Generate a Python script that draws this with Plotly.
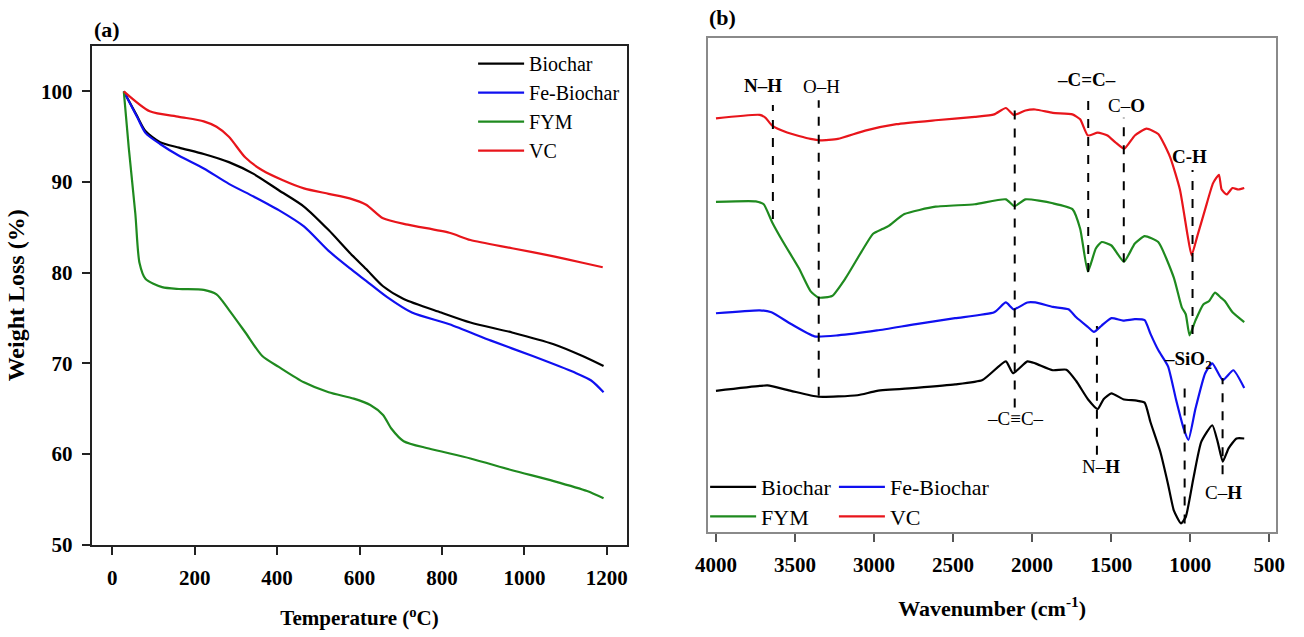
import plotly.graph_objects as go

# ---------------- (a) TGA: weight loss vs temperature ----------------
tga_biochar_t = [28, 60, 81, 116, 162, 222, 283, 343, 404, 465, 525, 576, 616, 657, 707, 798, 869, 970, 1071, 1141, 1192]
tga_biochar_w = [100, 97.3, 95.6, 94.4, 93.8, 93.1, 92.2, 90.9, 89.1, 87.3, 84.7, 82.2, 80.4, 78.5, 77.1, 75.6, 74.5, 73.4, 72.1, 70.8, 69.7]

tga_fe_t = [28, 60, 81, 116, 162, 222, 283, 343, 404, 465, 525, 576, 616, 667, 727, 818, 919, 1020, 1121, 1162, 1192]
tga_fe_w = [100, 97.2, 95.4, 94.2, 92.9, 91.5, 89.8, 88.4, 86.9, 85.1, 82.4, 80.5, 79.1, 77.3, 75.6, 74.3, 72.5, 70.8, 69.0, 68.1, 66.8]

tga_fym_t = [28, 40, 56, 66, 81, 121, 162, 222, 253, 283, 323, 364, 404, 465, 525, 586, 626, 657, 677, 707, 768, 869, 970, 1071, 1152, 1192]
tga_fym_w = [100, 93.8, 86.5, 81.1, 79.3, 78.4, 78.2, 78.1, 77.6, 75.9, 73.4, 70.8, 69.6, 67.9, 66.8, 66.1, 65.4, 64.3, 62.8, 61.4, 60.6, 59.5, 58.2, 57.0, 55.9, 55.1]

tga_vc_t = [28, 91, 162, 222, 253, 283, 323, 364, 414, 465, 525, 576, 616, 657, 717, 818, 869, 970, 1071, 1141, 1190]
tga_vc_w = [100, 97.8, 97.2, 96.7, 96.1, 95.0, 92.7, 91.3, 90.2, 89.3, 88.7, 88.2, 87.5, 86.0, 85.3, 84.4, 83.6, 82.7, 81.8, 81.1, 80.6]

tga_x_ticks = [0, 200, 400, 600, 800, 1000, 1200]
tga_y_ticks = [50, 60, 70, 80, 90, 100]

# ---------------- (b) FTIR: stacked transmittance (a.u.) ----------------
ftir_vc_wn = [4000, 3723, 3686, 3644, 3550, 3402, 3340, 3229, 3056, 2858, 2611, 2363, 2240, 2166, 2116, 2042,
              1980, 1869, 1745, 1696, 1647, 1585, 1523, 1473, 1417, 1350, 1276, 1202, 1127, 1065, 1016, 991,
              954, 905, 855, 818, 801, 769, 732, 695, 658]
ftir_vc_t = [84.2, 84.9, 84.3, 82.7, 81.3, 80.0, 79.7, 80.0, 81.7, 83.0, 83.8, 84.5, 85.0, 86.3, 84.9, 85.8,
             86.0, 85.3, 85.0, 84.0, 80.7, 81.3, 80.7, 79.3, 78.0, 80.7, 82.1, 81.0, 76.3, 69.7, 60.3, 56.3,
             60.3, 65.7, 71.0, 72.7, 69.7, 68.7, 70.0, 69.7, 70.0]

ftir_fym_wn = [4000, 3748, 3698, 3644, 3575, 3476, 3402, 3352, 3266, 3179, 3080, 3006, 2944, 2907, 2808, 2611,
               2363, 2166, 2111, 2042, 1869, 1745, 1696, 1647, 1597, 1560, 1498, 1419, 1350, 1288, 1202, 1103,
               1053, 1028, 1004, 967, 917, 880, 843, 806, 781, 732, 658]
ftir_fym_t = [67.2, 67.3, 66.7, 63.0, 59.0, 53.7, 49.0, 47.7, 48.0, 51.7, 57.0, 60.7, 61.7, 62.3, 64.7, 66.2,
              66.7, 67.7, 66.3, 67.7, 66.9, 65.7, 61.7, 53.0, 57.7, 59.0, 58.3, 55.0, 58.7, 60.2, 59.0, 51.7,
              45.7, 44.3, 40.0, 43.0, 46.3, 47.0, 48.7, 47.7, 47.0, 44.7, 42.7]

ftir_fe_wn = [4000, 3723, 3649, 3525, 3377, 3229, 2981, 2734, 2487, 2240, 2166, 2116, 2030, 1980, 1869, 1770,
              1721, 1647, 1609, 1560, 1498, 1424, 1350, 1288, 1251, 1202, 1140, 1090, 1041, 1011, 967, 905,
              860, 794, 727, 658]
ftir_fe_t = [44.5, 45.1, 44.7, 42.3, 39.8, 40.0, 41.0, 42.3, 43.5, 44.7, 46.7, 45.3, 46.7, 46.7, 45.8, 45.3,
             43.7, 41.7, 40.7, 42.0, 43.5, 43.0, 43.3, 43.1, 40.3, 37.0, 33.7, 27.0, 21.0, 18.7, 25.0, 32.3,
             34.3, 30.9, 32.9, 29.3]

ftir_bio_wn = [4000, 3723, 3674, 3525, 3352, 3105, 2981, 2734, 2487, 2314, 2166, 2121, 2030, 1980, 1869, 1783,
               1721, 1647, 1585, 1548, 1498, 1424, 1338, 1288, 1251, 1189, 1140, 1103, 1058, 1028, 979, 930,
               860, 826, 794, 757, 707, 658]
ftir_bio_t = [28.7, 29.7, 29.8, 28.7, 27.5, 27.8, 28.7, 29.3, 30.0, 30.9, 34.7, 32.3, 34.7, 34.3, 32.9, 33.0,
              30.7, 27.0, 25.0, 27.0, 28.2, 27.0, 26.7, 26.3, 22.3, 16.3, 9.7, 4.3, 1.7, 3.0, 11.0, 18.3,
              21.7, 18.3, 14.3, 17.0, 19.0, 19.0]

ftir_x_ticks = [4000, 3500, 3000, 2500, 2000, 1500, 1000, 500]

# Band assignments: wavenumber of the marker line, its vertical span, label text and label position
band_wn = [3640, 3350, 2110, 1645, 1420, 985, 1590, 1035, 795]
band_y0 = [63.7, 27.7, 25.3, 52.9, 54.9, 40.3, 15.7, 1.7, 11.7]
band_y1 = [86.9, 87.9, 86.3, 88.7, 84.3, 73.7, 41.9, 30.9, 31.3]
band_text = ["<b>N–H</b>", "O–H", "–C≡C–", "<b>–C=C–</b>", "C–<b>O</b>", "<b>C-H</b>",
             "N–<b>H</b>", "<b>–SiO<sub>2</sub></b>", "C–<b>H</b>"]
band_label_wn = [3701, 3335, 2104, 1659, 1404, 1004, 1567, 1016, 791]
band_label_y = [90.9, 90.7, 23.0, 92.1, 86.9, 76.5, 13.3, 35.0, 8.1]

COL = {"Biochar": "#000000", "Fe-Biochar": "#1010f0", "FYM": "#1f8a1f", "VC": "#e8151b"}
SERIF = "Liberation Serif"

fig = go.Figure()

# TGA traces
for name, t, w in [("Biochar", tga_biochar_t, tga_biochar_w),
                   ("Fe-Biochar", tga_fe_t, tga_fe_w),
                   ("FYM", tga_fym_t, tga_fym_w),
                   ("VC", tga_vc_t, tga_vc_w)]:
    fig.add_trace(go.Scatter(x=t, y=w, mode="lines", name=name, legend="legend",
                             line=dict(color=COL[name], width=2.2, shape="spline", smoothing=0.7),
                             xaxis="x", yaxis="y"))

# FTIR traces, each with its own legend box laid out as a 2x2 grid
for name, wn, tr, lg in [("Biochar", ftir_bio_wn, ftir_bio_t, "legend2"),
                         ("Fe-Biochar", ftir_fe_wn, ftir_fe_t, "legend3"),
                         ("FYM", ftir_fym_wn, ftir_fym_t, "legend4"),
                         ("VC", ftir_vc_wn, ftir_vc_t, "legend5")]:
    fig.add_trace(go.Scatter(x=wn, y=tr, mode="lines", name=name, legend=lg,
                             line=dict(color=COL[name], width=2.2, shape="spline", smoothing=0.5),
                             xaxis="x2", yaxis="y2"))

# Band marker lines and labels
for wn, y0, y1, txt, lx, ly in zip(band_wn, band_y0, band_y1, band_text, band_label_wn, band_label_y):
    fig.add_shape(type="line", xref="x2", yref="y2", x0=wn, x1=wn, y0=y0, y1=y1,
                  line=dict(color="black", width=2, dash="dash"))
    fig.add_annotation(xref="x2", yref="y2", x=lx, y=ly, text=txt, showarrow=False,
                       font=dict(family=SERIF, size=19, color="black"))

tick_font = dict(family=SERIF, size=21, color="black", weight="bold")


def small_legend(x_px, y_px):
    return dict(x=x_px / 1304, xanchor="left", y=(637 - y_px) / 637, yanchor="top",
                bgcolor="rgba(0,0,0,0)", font=dict(family=SERIF, size=22, color="black"),
                itemwidth=46)


fig.update_layout(
    width=1304, height=637,
    margin=dict(l=0, r=0, t=0, b=0),
    paper_bgcolor="white", plot_bgcolor="white",
    showlegend=True,
    xaxis=dict(domain=[80 / 1304, 625 / 1304], range=[-50, 1250], tickvals=tga_x_ticks,
               ticks="outside", ticklen=8, tickwidth=2, tickcolor="#222", ticklabelstandoff=5,
               showline=True, linecolor="#222", linewidth=2, mirror=True,
               showgrid=False, zeroline=False, tickfont=tick_font,
               title=dict(text="Temperature (<sup>o</sup>C)", standoff=22,
                          font=dict(family=SERIF, size=21, color="black", weight="bold")),
               anchor="y"),
    yaxis=dict(domain=[82 / 637, 590 / 637], range=[50, 105], tickvals=tga_y_ticks,
               ticks="outside", ticklen=8, tickwidth=2, tickcolor="#222", ticklabelstandoff=5,
               showline=True, linecolor="#222", linewidth=2, mirror=True,
               showgrid=False, zeroline=False, tickfont=tick_font,
               title=dict(text="Weight Loss (%)", standoff=10,
                          font=dict(family=SERIF, size=24, color="black", weight="bold")),
               anchor="x"),
    xaxis2=dict(domain=[707 / 1304, 1285 / 1304], range=[4050, 455], tickvals=ftir_x_ticks,
                ticks="outside", ticklen=8, tickwidth=1.5, tickcolor="#555", ticklabelstandoff=5,
                showline=True, linecolor="#8a8a8a", linewidth=1.5, mirror=True,
                showgrid=False, zeroline=False, tickfont=tick_font,
                title=dict(text="Wavenumber (cm<sup>-1</sup>)", standoff=25,
                           font=dict(family=SERIF, size=22, color="black", weight="bold")),
                anchor="y2"),
    yaxis2=dict(domain=[95 / 637, 598 / 637], range=[0, 100.5],
                showticklabels=False, ticks="", showline=True, linecolor="#8a8a8a",
                linewidth=1.5, mirror=True, showgrid=False, zeroline=False, anchor="x2"),
    legend=dict(x=468 / 1304, xanchor="left", y=(637 - 45) / 637, yanchor="top",
                bgcolor="rgba(0,0,0,0)", font=dict(family=SERIF, size=20, color="black"),
                tracegroupgap=0, itemwidth=46),
    legend2=small_legend(704, 475),
    legend3=small_legend(835, 475),
    legend4=small_legend(704, 505),
    legend5=small_legend(835, 505),
)

# Panel labels
fig.add_annotation(xref="paper", yref="paper", x=80 / 1304, y=(637 - 30) / 637, text="<b>(a)</b>",
                   showarrow=False, xanchor="left", yanchor="middle",
                   font=dict(family=SERIF, size=22, color="black"))
fig.add_annotation(xref="paper", yref="paper", x=706 / 1304, y=(637 - 18) / 637, text="<b>(b)</b>",
                   showarrow=False, xanchor="left", yanchor="middle",
                   font=dict(family=SERIF, size=22, color="black"))

fig.write_html("out.html")
